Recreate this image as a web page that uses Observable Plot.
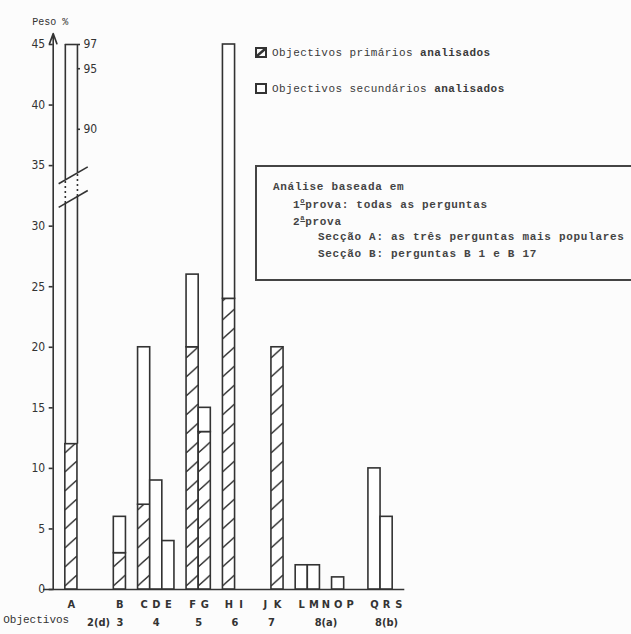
<!DOCTYPE html>
<html><head><meta charset="utf-8">
<script src="https://cdn.jsdelivr.net/npm/d3@7"></script>
<script src="https://cdn.jsdelivr.net/npm/@observablehq/plot@0.6"></script>
<style>
html,body{margin:0;padding:0;background:#fcfcfc;}
#wrap{position:relative;width:631px;height:634px;overflow:hidden;}
.mono{position:absolute;white-space:nowrap;font-family:"Liberation Mono","DejaVu Sans Mono",monospace;font-size:11px;color:#3a3a3a;line-height:13px;}
.leg{letter-spacing:0.45px;}
.box{position:absolute;left:255px;top:165px;width:400px;height:116px;border:2px solid #444;box-sizing:border-box;}
.bt{letter-spacing:0.7px;font-weight:bold;color:#444;}
.sq{position:absolute;left:255px;width:12px;height:11px;box-sizing:border-box;border:2px solid #333;}
sup{font-size:7px;vertical-align:5px;line-height:0;text-decoration:underline;}
</style>
</head><body>
<div id="wrap"></div>
<script>
// ---- data ----
const categories = ["A","B","C","D","E","F","G","H","I","J","K","L","M","N","O","P","Q","R","S"];
const primary    = [12, 3, 7, 0, 0, 20, 13, 24, 0, 0, 20, 0, 0, 0, 0, 0, 0, 0, 0];
const total      = [97, 6, 20, 9, 4, 26, 15, 45, 0, 0, 20, 2, 2, 0, 1, 0, 10, 6, 0];
const groups = [["A"],["B"],["C","D","E"],["F","G"],["H","I"],["J","K"],["L","M","N","O","P"],["Q","R","S"]];
const objectives = ["2(d)","3","4","5","6","7","8(a)","8(b)"];
const gapsBefore = [0,3,1,1,1,1,1,1];
const yTicks = [0,5,10,15,20,25,30,35,40,45];
const brokenTicks = [97,95,90];   // labels on the broken bar A
const axisTop = 45;               // value drawn at the top of the axis
const breakLower = [31.55, 32.95]; // break slash (left/right ends)
const breakUpper = [33.5, 34.9];
const breakX = [-0.55, 1.85];

// ---- layout (slots) ----
const slot = {}; const spans = [];
let s = 0;
groups.forEach((g,i)=>{ s += gapsBefore[i]; const st = s; g.forEach(c=>{ slot[c] = s++; }); spans.push([st, s]); });
const rows = categories.map((c,i)=>({c, x1: slot[c], x2: slot[c]+1, p: primary[i], t: total[i]}));
const broken = rows.filter(d => d.t > axisTop);
const normal = rows.filter(d => d.t <= axisTop);
const lerp = (ys, x) => ys[0] + (ys[1]-ys[0]) * (x - breakX[0]) / (breakX[1]-breakX[0]);
const edges = [];
broken.forEach(d => [d.x1, d.x2].forEach(x => edges.push({x, p: d.p, lo: lerp(breakLower, x), hi: lerp(breakUpper, x)})));
const shift = brokenTicks[0] - axisTop;
const bticks = brokenTicks.map(v => ({v, y: v - shift, x1: broken[0].x2, x2: broken[0].x2 + 0.25}));
const objMain = objectives.slice(1).map((o,i)=>({o, x: (spans[i+1][0]+spans[i+1][1])/2}));
const objFirst = [{o: objectives[0], x: (spans[0][0] + spans[1][0]) / 2}];

const INK = "#333";
const SW = 1.6;
const sans = '"Liberation Sans Narrow","DejaVu Sans Condensed","DejaVu Sans",sans-serif';
const mono = '"Liberation Mono","DejaVu Sans Mono",monospace';

const plot = Plot.plot({
  width: 631, height: 634,
  marginLeft: 52.7, marginRight: 226.7, marginTop: 44, marginBottom: 45,
  x: {type: "linear", domain: [-1, 28], axis: null},
  y: {domain: [0, 45], label: null},
  style: {background: "transparent", color: INK, fontFamily: sans, fontSize: "12px"},
  marks: [
    Plot.axisY({ticks: yTicks, tickSize: 4, tickPadding: 4, strokeWidth: SW, fontSize: 12, fontStretch: "condensed"}),
    Plot.arrow([0], {x1: -1, x2: -1, y1: 0, y2: 45.9, stroke: INK, strokeWidth: SW, headLength: 10, headAngle: 40}),
    Plot.ruleY([0], {x1: -1.8, x2: 28, stroke: INK, strokeWidth: SW}),
    // primary (hatched)
    Plot.rect(rows.filter(d => d.p > 0), {x1: "x1", x2: "x2", y1: 0, y2: "p", fill: "url(#hatch)", stroke: INK, strokeWidth: SW}),
    // secondary (white)
    Plot.rect(normal.filter(d => d.t > d.p), {x1: "x1", x2: "x2", y1: "p", y2: "t", fill: "white", stroke: INK, strokeWidth: SW}),
    // broken bar
    Plot.ruleX(edges, {x: "x", y1: "p", y2: "lo", stroke: INK, strokeWidth: SW}),
    Plot.ruleX(edges, {x: "x", y1: "lo", y2: "hi", stroke: INK, strokeWidth: SW, strokeDasharray: "2,3"}),
    Plot.ruleX(edges, {x: "x", y1: "hi", y2: axisTop, stroke: INK, strokeWidth: SW}),
    Plot.ruleY(broken, {y: axisTop, x1: "x1", x2: "x2", stroke: INK, strokeWidth: SW}),
    Plot.ruleY(bticks, {y: "y", x1: "x1", x2: "x2", stroke: INK, strokeWidth: SW}),
    Plot.text(bticks, {x: "x2", y: "y", text: d => String(d.v), dx: 3, textAnchor: "start", fontSize: 12, fill: INK}),
    Plot.link([{x1: breakX[0], y1: breakLower[0], x2: breakX[1], y2: breakLower[1]},
               {x1: breakX[0], y1: breakUpper[0], x2: breakX[1], y2: breakUpper[1]}],
      {x1: "x1", y1: "y1", x2: "x2", y2: "y2", stroke: INK, strokeWidth: SW}),
    // category letters
    Plot.text(rows, {x: d => d.x1 + 0.5, y: 0, text: "c", dy: 15, fontSize: 11, fontWeight: "bold", fill: INK}),
    // objectives row
    Plot.text(objMain, {x: "x", y: 0, text: "o", dy: 33, fontSize: 11, fontWeight: "bold", fill: INK}),
    Plot.text(objFirst, {x: "x", y: 0, text: "o", dy: 33, dx: 9, fontSize: 11, fontWeight: "bold", fill: INK}),
    Plot.text(["Objectivos"], {frameAnchor: "bottom-left", dx: -50, dy: 33, textAnchor: "start", fontFamily: mono, fontSize: 11, fill: INK}),
    Plot.text(["Peso %"], {frameAnchor: "top-left", dx: -21, dy: -27, textAnchor: "start", fontFamily: mono, fontSize: 10, fill: INK})
  ]
});

// hatch pattern aligned to the slots
const xs = plot.scale("x"), ys = plot.scale("y");
const x0 = xs.apply(0), sw = xs.apply(1) - xs.apply(0), yb = ys.apply(0);
const NS = "http://www.w3.org/2000/svg";
const defs = document.createElementNS(NS, "defs");
const pat = document.createElementNS(NS, "pattern");
pat.setAttribute("id", "hatch");
pat.setAttribute("patternUnits", "userSpaceOnUse");
pat.setAttribute("x", x0); pat.setAttribute("y", yb);
pat.setAttribute("width", sw); pat.setAttribute("height", 19);
const bg = document.createElementNS(NS, "rect");
bg.setAttribute("width", sw); bg.setAttribute("height", 19); bg.setAttribute("fill", "white");
const ln = document.createElementNS(NS, "line");
ln.setAttribute("x1", 0); ln.setAttribute("y1", 16); ln.setAttribute("x2", sw); ln.setAttribute("y2", 5);
ln.setAttribute("stroke", INK); ln.setAttribute("stroke-width", 1.5);
pat.appendChild(bg); pat.appendChild(ln); defs.appendChild(pat);
plot.insertBefore(defs, plot.firstChild);

const wrap = document.getElementById("wrap");
wrap.appendChild(plot);
plot.style.position = "absolute"; plot.style.left = "0"; plot.style.top = "0";

// legend + annotation box
wrap.insertAdjacentHTML("beforeend", `
<div class="sq" style="top:47px;"><svg width="8" height="7" style="position:absolute;left:0;top:0"><line x1="0" y1="7" x2="8" y2="0" stroke="#333" stroke-width="2.5"/></svg></div>
<div class="mono leg" style="left:272px;top:47px;">Objectivos primários <b>analisados</b></div>
<div class="sq" style="top:83px;"></div>
<div class="mono leg" style="left:272px;top:83px;">Objectivos secundários <b>analisados</b></div>
<div class="box"></div>
<div class="mono bt" style="left:273px;top:181px;">Análise baseada em</div>
<div class="mono bt" style="left:293px;top:199px;">1<sup>o</sup>prova: todas as perguntas</div>
<div class="mono bt" style="left:293px;top:216px;">2<sup>a</sup>prova</div>
<div class="mono bt" style="left:318px;top:231px;">Secção A: as três perguntas mais populares</div>
<div class="mono bt" style="left:318px;top:248px;">Secção B: perguntas B 1 e B 17</div>
`);
</script>
</body></html>
